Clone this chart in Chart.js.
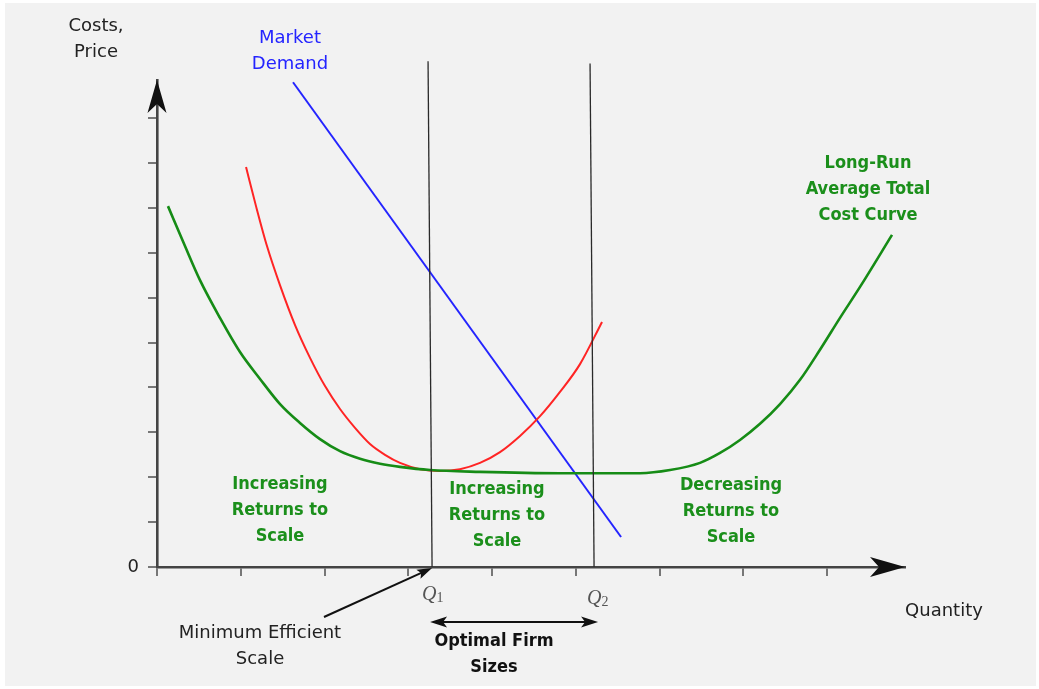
<!DOCTYPE html>
<html>
<head>
<meta charset="utf-8">
<script src="https://cdn.jsdelivr.net/npm/chart.js@4/dist/chart.umd.min.js"></script>
<style>
html,body{margin:0;padding:0;background:#fff;overflow:hidden;}
canvas{display:block;}
</style>
</head>
<body>
<canvas id="c" width="1039" height="689"></canvas>
<script>
// ---- data (quantity units on x, cost units on y) ----
const xTicks = [0, 1, 2, 3, 4, 5, 6, 7, 8];
const yTicks = [0, 1, 2, 3, 4, 5, 6, 7, 8, 9, 10];
const yTickLabels = ['0', '', '', '', '', '', '', '', '', '', ''];

// Long-run average total cost curve
const lratcX = [0.131, 0.334, 0.513, 0.752, 0.991, 1.230, 1.469, 1.707, 1.946, 2.185, 2.424, 2.663, 2.901, 3.259, 3.856, 4.811, 5.766, 6.125, 6.483, 6.722, 6.960, 7.199, 7.438, 7.677, 7.915, 8.154, 8.393, 8.775];
const lratcY = [8.04, 7.15, 6.39, 5.55, 4.79, 4.19, 3.63, 3.21, 2.85, 2.58, 2.41, 2.30, 2.23, 2.16, 2.12, 2.09, 2.09, 2.16, 2.32, 2.54, 2.83, 3.19, 3.63, 4.17, 4.84, 5.55, 6.24, 7.40];

// Short-run average total cost curve (red)
const sratcX = [1.063, 1.182, 1.313, 1.468, 1.648, 1.827, 2.006, 2.185, 2.364, 2.543, 2.722, 2.901, 3.140, 3.379, 3.617, 3.856, 4.095, 4.334, 4.573, 4.811, 5.050, 5.313];
const sratcY = [8.91, 8.04, 7.15, 6.28, 5.39, 4.66, 4.03, 3.52, 3.10, 2.74, 2.50, 2.32, 2.18, 2.14, 2.18, 2.32, 2.56, 2.92, 3.36, 3.90, 4.52, 5.46];

// Market demand (straight line)
const demandX = [1.624, 5.540];
const demandY = [10.80, 0.668];

// Vertical guide lines at Q1 and Q2
const q1X = [3.236, 3.284];
const q1Y = [11.27, 0];
const q2X = [5.170, 5.218];
const q2Y = [11.22, 0];

const qLabels = ['1', '2'];

const X_MAX = 8.93;
const Y_MAX = 10.85;

function pts(xs, ys) { return xs.map((x, i) => ({x: x, y: ys[i]})); }

const GREEN = '#168c16';
const GREEN_TXT = '#1b8f1b';
const RED = '#ff2424';
const BLUE = '#2424ff';

const SANS = "'DejaVu Sans', Verdana, sans-serif";
const COND = "'DejaVu Sans Condensed', 'DejaVu Sans', sans-serif";

function arrowHead(ctx, tipX, tipY, angle, len, half, notch) {
  ctx.save();
  ctx.translate(tipX, tipY);
  ctx.rotate(angle);
  ctx.beginPath();
  ctx.moveTo(0, 0);
  ctx.lineTo(-len, -half);
  ctx.lineTo(-len + notch, 0);
  ctx.lineTo(-len, half);
  ctx.closePath();
  ctx.fill();
  ctx.restore();
}

const texts = [
  {lines: ['Costs,', 'Price'], x: 96, y: 31, lh: 26, font: '18px ' + SANS, color: '#222'},
  {lines: ['Market', 'Demand'], x: 290, y: 43, lh: 26, font: '18px ' + SANS, color: BLUE},
  {lines: ['Long-Run', 'Average Total', 'Cost Curve'], x: 868, y: 168, lh: 26, font: 'bold 18px ' + COND, color: GREEN_TXT},
  {lines: ['Increasing', 'Returns to', 'Scale'], x: 280, y: 489, lh: 26, font: 'bold 18px ' + COND, color: GREEN_TXT},
  {lines: ['Increasing', 'Returns to', 'Scale'], x: 497, y: 494, lh: 26, font: 'bold 18px ' + COND, color: GREEN_TXT},
  {lines: ['Decreasing', 'Returns to', 'Scale'], x: 731, y: 490, lh: 26, font: 'bold 18px ' + COND, color: GREEN_TXT},
  {lines: ['Quantity'], x: 944, y: 616, lh: 26, font: '18px ' + SANS, color: '#222'},
  {lines: ['Minimum Efficient', 'Scale'], x: 260, y: 638, lh: 26, font: '18px ' + SANS, color: '#222'},
  {lines: ['Optimal Firm', 'Sizes'], x: 494, y: 646, lh: 26, font: 'bold 18px ' + COND, color: '#111'}
];

const decor = {
  id: 'decor',
  beforeDraw(chart) {
    const ctx = chart.ctx;
    ctx.save();
    ctx.fillStyle = '#ffffff';
    ctx.fillRect(0, 0, chart.width, chart.height);
    ctx.fillStyle = '#f2f2f2';
    ctx.fillRect(5, 3, 1031, 683);
    ctx.restore();
  },
  afterDraw(chart) {
    const ctx = chart.ctx;
    const xs = chart.scales.x, ys = chart.scales.y;
    const ox = xs.getPixelForValue(0), oy = ys.getPixelForValue(0);
    ctx.save();
    ctx.fillStyle = '#111';
    // axis arrowheads
    arrowHead(ctx, ox, chart.chartArea.top, -Math.PI / 2, 33, 9.5, 9);
    arrowHead(ctx, chart.chartArea.right, oy, 0, 35, 10, 9);

    // Q labels
    const qx = [xs.getPixelForValue(q1X[1]), xs.getPixelForValue(q2X[1])];
    const qBase = [600, 604];
    for (let i = 0; i < 2; i++) {
      ctx.fillStyle = '#555';
      ctx.font = "italic 20px 'Liberation Serif', serif";
      ctx.textAlign = 'left';
      ctx.textBaseline = 'alphabetic';
      const w = ctx.measureText('Q').width;
      const sx = qx[i] - 9 + (i === 1 ? 3 : 0);
      ctx.fillText('Q', sx - 1, qBase[i]);
      ctx.font = "14px 'Liberation Serif', serif";
      ctx.fillText(qLabels[i], sx - 1 + w, qBase[i] + 2);
    }

    // Minimum efficient scale arrow
    ctx.strokeStyle = '#111';
    ctx.fillStyle = '#111';
    ctx.lineWidth = 2;
    const tipX = xs.getPixelForValue(q1X[1]), tipY = oy + 1;
    const tailX = 324, tailY = 617;
    const ang = Math.atan2(tipY - tailY, tipX - tailX);
    ctx.beginPath();
    ctx.moveTo(tailX, tailY);
    ctx.lineTo(tipX - 10 * Math.cos(ang), tipY - 10 * Math.sin(ang));
    ctx.stroke();
    arrowHead(ctx, tipX, tipY, ang, 15, 5, 3);

    // Optimal firm sizes double arrow
    const lx = xs.getPixelForValue(q1X[1]) - 2, rx = xs.getPixelForValue(q2X[1]) + 4, ay = 622;
    ctx.beginPath();
    ctx.moveTo(lx + 10, ay);
    ctx.lineTo(rx - 10, ay);
    ctx.stroke();
    arrowHead(ctx, lx, ay, Math.PI, 17, 5.5, 4);
    arrowHead(ctx, rx, ay, 0, 17, 5.5, 4);

    // text annotations
    ctx.textAlign = 'center';
    ctx.textBaseline = 'alphabetic';
    texts.forEach(t => {
      ctx.font = t.font;
      ctx.fillStyle = t.color;
      t.lines.forEach((ln, i) => ctx.fillText(ln, t.x, t.y + i * t.lh));
    });
    ctx.restore();
  }
};

const lineDs = (label, data, color, width, extra) => Object.assign({
  label: label,
  data: data,
  showLine: true,
  borderColor: color,
  backgroundColor: color,
  borderWidth: width,
  pointRadius: 0,
  pointHoverRadius: 0,
  fill: false,
  clip: false,
  tension: 0
}, extra || {});

new Chart(document.getElementById('c'), {
  type: 'scatter',
  data: {
    datasets: [
      lineDs('Q1', pts(q1X, q1Y), '#2a2a2a', 1.3),
      lineDs('Q2', pts(q2X, q2Y), '#2a2a2a', 1.3),
      lineDs('Long-Run Average Total Cost', pts(lratcX, lratcY), GREEN, 2.6, {cubicInterpolationMode: 'monotone'}),
      lineDs('Short-Run ATC', pts(sratcX, sratcY), RED, 2, {cubicInterpolationMode: 'monotone'}),
      lineDs('Market Demand', pts(demandX, demandY), BLUE, 2)
    ]
  },
  options: {
    responsive: false,
    animation: false,
    devicePixelRatio: 1,
    layout: {padding: {top: 80, right: 134, bottom: 0, left: 0}},
    plugins: {legend: {display: false}, tooltip: {enabled: false}},
    events: [],
    scales: {
      x: {
        type: 'linear',
        position: 'bottom',
        min: 0,
        max: X_MAX,
        afterFit(s) { s.height = 122; },
        afterBuildTicks(s) { s.ticks = xTicks.map(v => ({value: v})); },
        ticks: {callback: () => '', font: {size: 1}},
        grid: {drawOnChartArea: false, drawTicks: true, tickLength: 9, color: '#777', lineWidth: 2},
        border: {display: true, color: '#444', width: 2.6}
      },
      y: {
        type: 'linear',
        position: 'left',
        min: 0,
        max: Y_MAX,
        afterFit(s) { s.width = 157; },
        afterBuildTicks(s) { s.ticks = yTicks.map(v => ({value: v})); },
        ticks: {
          callback: (v) => { const i = yTicks.indexOf(v); return i >= 0 ? yTickLabels[i] : ''; },
          font: {family: SANS, size: 18},
          color: '#222',
          padding: 9
        },
        grid: {drawOnChartArea: false, drawTicks: true, tickLength: 9, color: '#777', lineWidth: 2},
        border: {display: true, color: '#444', width: 2.6}
      }
    }
  },
  plugins: [decor]
});
</script>
</body>
</html>
